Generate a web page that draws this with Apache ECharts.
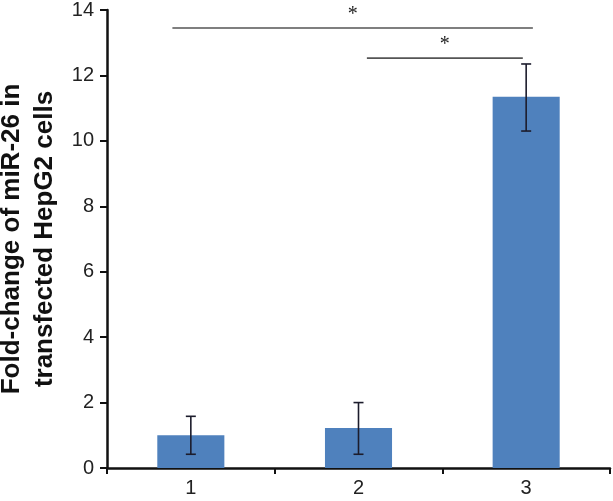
<!DOCTYPE html>
<html>
<head>
<meta charset="utf-8">
<script src="https://cdn.jsdelivr.net/npm/echarts@6/dist/echarts.min.js"></script>
<style>
  html, body { margin: 0; padding: 0; background: #fff; }
  #chart { width: 613px; height: 501px; }
</style>
</head>
<body>
<div id="chart"></div>
<script>
var categories = ["1", "2", "3"];
var means = [1.0, 1.22, 11.35];
var errLow = [0.42, 0.42, 10.3];
var errHigh = [1.58, 2.0, 12.35];

// significance brackets: start/end in category units, height, label
var sigStart = [-0.11, 1.05];
var sigEnd = [2.04, 1.98];
var sigLevel = [13.45, 12.53];
var sigLabel = ["*", "*"];

var errData = means.map(function (m, i) { return [i, errLow[i], errHigh[i]]; });
var sigData = sigStart.map(function (s, i) { return [s, sigEnd[i], sigLevel[i], sigLabel[i]]; });

var chart = echarts.init(document.getElementById("chart"));
chart.setOption({
  animation: false,
  grid: { left: 107, right: 3, top: 10, bottom: 33, containLabel: false, outerBoundsMode: "none" },
  xAxis: {
    type: "category",
    data: categories,
    axisLine: { lineStyle: { color: "#111", width: 2.5 } },
    axisTick: { show: true, length: 6, lineStyle: { color: "#111", width: 2 } },
    axisLabel: { color: "#222", fontSize: 20, fontFamily: "Liberation Sans", margin: 10 }
  },
  yAxis: {
    type: "value",
    min: 0,
    max: 14,
    interval: 2,
    name: "Fold-change of miR-26 in\ntransfected HepG2 cells",
    nameLocation: "middle",
    nameRotate: 90,
    nameGap: 42,
    nameTextStyle: {
      color: "#111",
      fontSize: 26,
      fontWeight: "bold",
      fontFamily: "Liberation Sans",
      lineHeight: 33
    },
    splitLine: { show: false },
    axisLine: { show: true, lineStyle: { color: "#111", width: 2.5 } },
    axisTick: { show: true, length: 7, lineStyle: { color: "#111", width: 2 } },
    axisLabel: { color: "#222", fontSize: 20, fontFamily: "Liberation Sans", margin: 13 }
  },
  series: [
    {
      type: "bar",
      data: means,
      barWidth: "40%",
      itemStyle: { color: "#4f81bd" }
    },
    {
      type: "custom",
      data: errData,
      z: 5,
      renderItem: function (params, api) {
        var lo = api.coord([api.value(0), api.value(1)]);
        var hi = api.coord([api.value(0), api.value(2)]);
        var cap = 5;
        var style = { stroke: "#1c1c2c", lineWidth: 1.6 };
        return {
          type: "group",
          children: [
            { type: "line", shape: { x1: hi[0], y1: hi[1], x2: lo[0], y2: lo[1] }, style: style },
            { type: "line", shape: { x1: hi[0] - cap, y1: hi[1], x2: hi[0] + cap, y2: hi[1] }, style: style },
            { type: "line", shape: { x1: lo[0] - cap, y1: lo[1], x2: lo[0] + cap, y2: lo[1] }, style: style }
          ]
        };
      }
    },
    {
      type: "custom",
      data: sigData,
      z: 5,
      renderItem: function (params, api) {
        var base = api.coord([0, api.value(2)]);
        var band = api.size([1, 0])[0];
        var x0 = base[0] + api.value(0) * band;
        var x1 = base[0] + api.value(1) * band;
        var y = base[1];
        return {
          type: "group",
          children: [
            { type: "line", shape: { x1: x0, y1: y, x2: x1, y2: y }, style: { stroke: "#555", lineWidth: 1.6 } },
            {
              type: "text",
              x: (x0 + x1) / 2,
              y: y - 3,
              style: {
                text: sigData[params.dataIndex][3],
                fill: "#222",
                font: "20px 'Liberation Serif'",
                align: "center",
                verticalAlign: "bottom"
              }
            }
          ]
        };
      }
    }
  ]
});
</script>
</body>
</html>
